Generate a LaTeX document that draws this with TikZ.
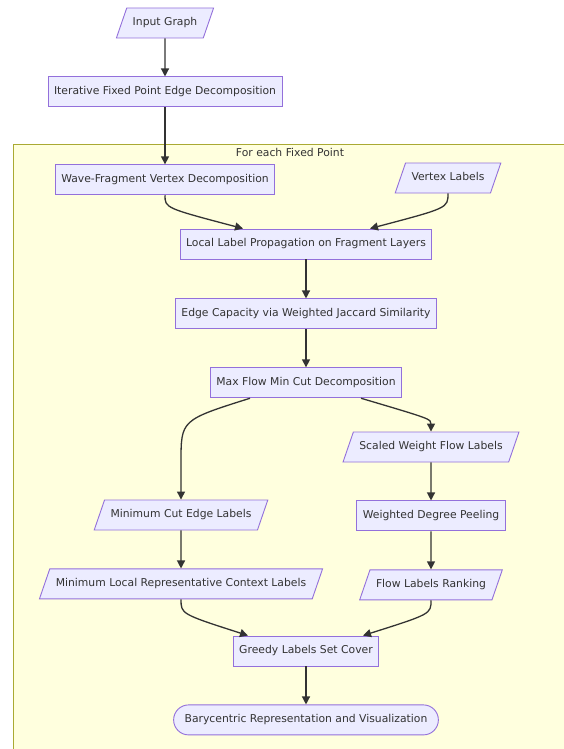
\documentclass[tikz,border=0pt]{standalone}
\usepackage{fontspec}
\setmainfont{DejaVu Sans}
\usepackage{tikz}
\definecolor{nodefill}{HTML}{ECECFF}
\definecolor{nodeline}{HTML}{9370DB}
\definecolor{groupfill}{HTML}{FFFFDE}
\definecolor{groupline}{HTML}{AAAA33}
\definecolor{ink}{HTML}{333333}
\tikzset{
     box/.style={draw=nodeline, fill=nodefill, text=ink, line width=0.9pt,
         text height=8pt, text depth=2.5pt, inner ysep=9.75pt, inner xsep=6pt,
         font=\fontsize{10.8}{13}\selectfont},
     data/.style={box, trapezium, trapezium left angle=71, trapezium right angle=109},
     pill/.style={box, rounded corners=15pt, inner xsep=11pt},
     arrow/.style={-{Triangle[length=8pt,width=8pt]}, draw=ink, line width=1.3pt}
     }
\usetikzlibrary{positioning,arrows.meta}
\usetikzlibrary{shapes.geometric}

\begin{document}
\begin{tikzpicture}[x=1pt,y=1pt]
                    \useasboundingbox (0,0) rectangle (564,-749);
                    % Fixed point group
                    \draw[groupline, fill=groupfill, line width=0.9pt] (13,-144) rectangle (567,-760);
                    \node[text=ink, font=\fontsize{10.8}{13}\selectfont] (grp) at (290,-152) {For each Fixed Point};
                    % Place nodes
                    \node [data] (inpt) at (165,-23) {Input Graph};
                    \node [box, below=38pt of inpt] (iter) {Iterative Fixed Point Edge Decomposition};
                    \node [box, below=57pt of iter] (wave) {Wave-Fragment Vertex Decomposition};
                    \node [data] (vlab) at (448,-178) {Vertex Labels};
                    \node [box] (local) at (306,-244) {Local Label Propagation on Fragment Layers};
                    \node [box, below=39pt of local] (capac) {Edge Capacity via Weighted Jaccard Similarity};
                    \node [box, below=38pt of capac] (maxf) {Max Flow Min Cut Decomposition};
                    \node [data] (scaled) at (431,-447) {Scaled Weight Flow Labels};
                    \node [box, below=38pt of scaled] (peel) {Weighted Degree Peeling};
                    \node [data, below=38pt of peel] (rank) {Flow Labels Ranking};
                    \node [data] (mincut) at (181,-515) {Minimum Cut Edge Labels};
                    \node [data, below=38pt of mincut] (minloc) {Minimum Local Representative Context Labels};
                    \node [box] (greedy) at (306,-651) {Greedy Labels Set Cover};
                    \node [pill, below=38pt of greedy] (bary) {Barycentric Representation and Visualization};
                    % Draw edges
                    \draw[arrow] (inpt) -- (iter);
                    \draw[arrow] (iter) -- (wave);
                    \draw[arrow] (wave.south) .. controls (165,-208) .. ([xshift=-63pt]local.north);
                    \draw[arrow] (vlab.south) .. controls (448,-208) .. ([xshift=64pt]local.north);
                    \draw[arrow] (local) -- (capac);
                    \draw[arrow] (capac) -- (maxf);
                    \draw[arrow] ([xshift=-56pt]maxf.south) .. controls (181,-420) .. (181,-462) -- (mincut.north);
                    \draw[arrow] ([xshift=55pt]maxf.south) .. controls (431,-419) .. (scaled.north);
                    \draw[arrow] (scaled) -- (peel);
                    \draw[arrow] (peel) -- (rank);
                    \draw[arrow] (mincut) -- (minloc);
                    \draw[arrow] (minloc.south) .. controls (181,-614) .. ([xshift=-58pt]greedy.north);
                    \draw[arrow] (rank.south) .. controls (431,-614) .. ([xshift=57pt]greedy.north);
                    \draw[arrow] (greedy) -- (bary);
                \end{tikzpicture}
\end{document}
